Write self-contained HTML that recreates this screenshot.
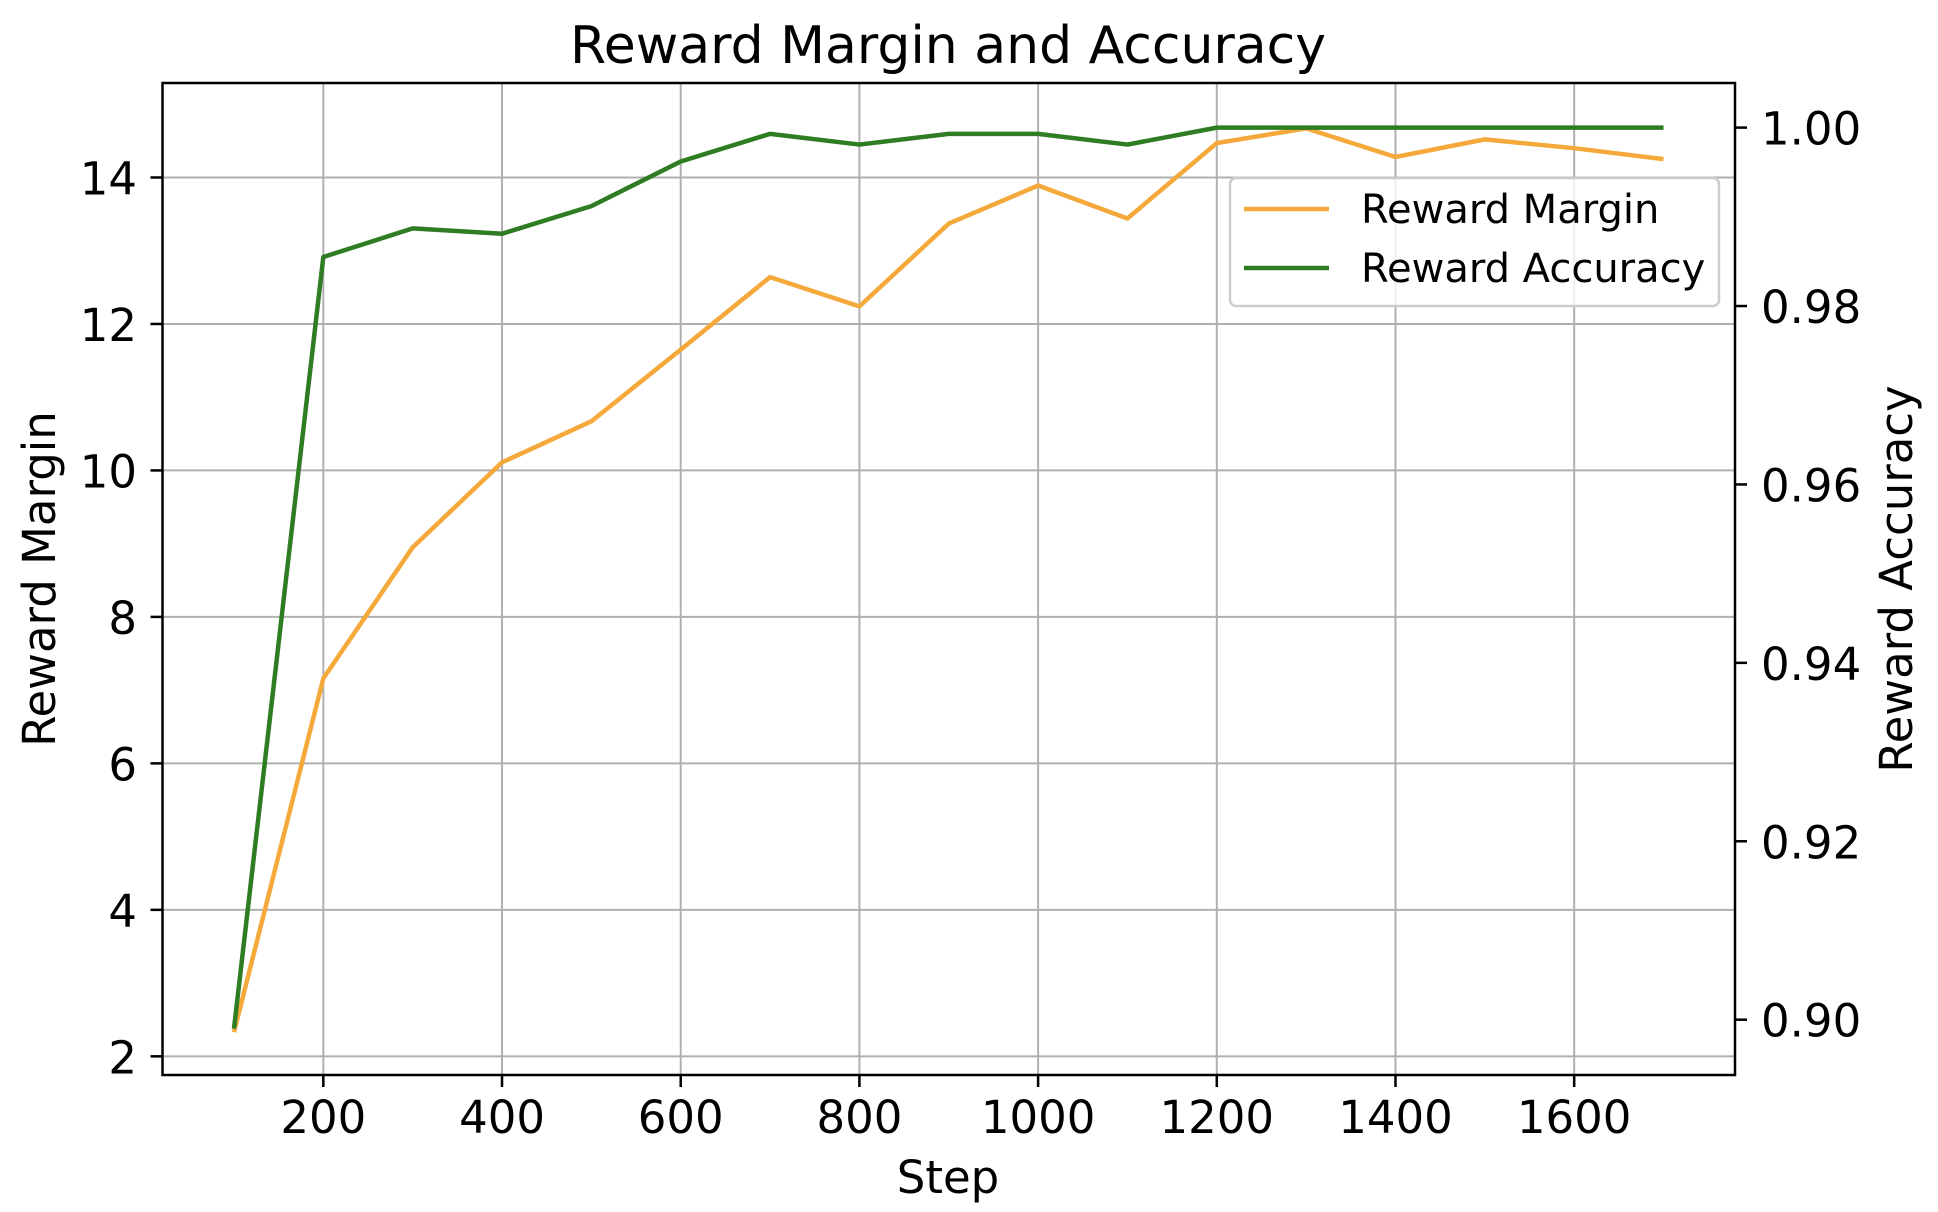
<!DOCTYPE html>
<html><head><meta charset="utf-8"><style>
html,body{margin:0;padding:0;background:#fff}
svg{display:block}
text{font-family:"DejaVu Sans","Liberation Sans",sans-serif;fill:#000}
</style></head><body>
<svg id="chart" width="1938" height="1212" viewBox="0 0 1938 1212">
<g id="grid"></g>
<g id="lines"></g>
<rect x="162.5" y="83" width="1572.5" height="992" fill="none" stroke="#000" stroke-width="2.5"/>
<g id="ticks"></g>
<text x="948" y="63" font-size="52" text-anchor="middle">Reward Margin and Accuracy</text>
<text x="948" y="1193" font-size="45" text-anchor="middle">Step</text>
<text transform="translate(55,579) rotate(-90)" font-size="45" text-anchor="middle">Reward Margin</text>
<text transform="translate(1912,579) rotate(-90)" font-size="45" text-anchor="middle">Reward Accuracy</text>
<g>
<rect x="1230" y="178" width="489" height="128" rx="6" fill="#fff" fill-opacity="0.8" stroke="#ccc" stroke-width="2.5"/>
<line x1="1244" y1="209" x2="1329" y2="209" stroke="#F4A93A" stroke-width="4.5"/>
<text x="1361" y="223" font-size="40">Reward Margin</text>
<line x1="1244" y1="268" x2="1329" y2="268" stroke="#2E7D22" stroke-width="4.5"/>
<text x="1361" y="282" font-size="40">Reward Accuracy</text>
</g>
</svg>
<script>
const steps = [100,200,300,400,500,600,700,800,900,1000,1100,1200,1300,1400,1500,1600,1700];
const margin = [2.33,7.16,8.95,10.11,10.67,11.65,12.64,12.24,13.37,13.89,13.44,14.47,14.67,14.28,14.52,14.4,14.25];
const accuracy = [0.899,0.9855,0.9887,0.9881,0.9912,0.9962,0.9993,0.9981,0.9993,0.9993,0.9981,1.0,1.0,1.0,1.0,1.0,1.0];
const xTicks = [200,400,600,800,1000,1200,1400,1600];
const yLeftTicks = [2,4,6,8,10,12,14];
const yRightTicks = [0.90,0.92,0.94,0.96,0.98,1.00];

const NS = "http://www.w3.org/2000/svg";
const L=162.5,R=1735,T=83,B=1075;
const xMin=20,xMax=1780;
const yLMin=1.745,yLMax=15.29;
const yRMin=0.8938,yRMax=1.005;
const sx=v=>L+(v-xMin)/(xMax-xMin)*(R-L);
const syL=v=>B-(v-yLMin)/(yLMax-yLMin)*(B-T);
const syR=v=>B-(v-yRMin)/(yRMax-yRMin)*(B-T);
function mk(tag,attrs,parent){const e=document.createElementNS(NS,tag);for(const k in attrs)e.setAttribute(k,attrs[k]);parent.appendChild(e);return e;}
const grid=document.getElementById('grid'),ticks=document.getElementById('ticks'),lines=document.getElementById('lines');
xTicks.forEach(v=>{
  const x=sx(v);
  const g=mk('line',{x1:x,x2:x,y1:T,y2:B,stroke:'#b0b0b0','stroke-width':2},grid);
  
  
  const t=mk('line',{x1:x,x2:x,y1:B,y2:B+12,stroke:'#000','stroke-width':2.5},ticks);
  
  
  const l=mk('text',{x:x,y:1133,'font-size':45,'text-anchor':'middle'},ticks);
  l.textContent=v;
  
  
});
yLeftTicks.forEach(v=>{
  const y=syL(v);
  const g=mk('line',{x1:L,x2:R,y1:y,y2:y,stroke:'#b0b0b0','stroke-width':2},grid);
  
  
  const t=mk('line',{x1:L-12,x2:L,y1:y,y2:y,stroke:'#000','stroke-width':2.5},ticks);
  
  
  const l=mk('text',{x:137,y:y+17,'font-size':45,'text-anchor':'end'},ticks);
  l.textContent=v;
  
  
});
yRightTicks.forEach(v=>{
  const y=syR(v);
  const t=mk('line',{x1:R,x2:R+12,y1:y,y2:y,stroke:'#000','stroke-width':2.5},ticks);
  
  
  const l=mk('text',{x:1761,y:y+17,'font-size':45,'text-anchor':'start'},ticks);
  l.textContent=v.toFixed(2);
  
  
});
const pm=mk('polyline',{points:steps.map((s,i)=>sx(s)+','+syL(margin[i])).join(' '),fill:'none',stroke:'#F4A93A','stroke-width':4.5,'stroke-linejoin':'round'},lines);


const pa=mk('polyline',{points:steps.map((s,i)=>sx(s)+','+syR(accuracy[i])).join(' '),fill:'none',stroke:'#2E7D22','stroke-width':4.5,'stroke-linejoin':'round'},lines);


</script>
</body></html>
